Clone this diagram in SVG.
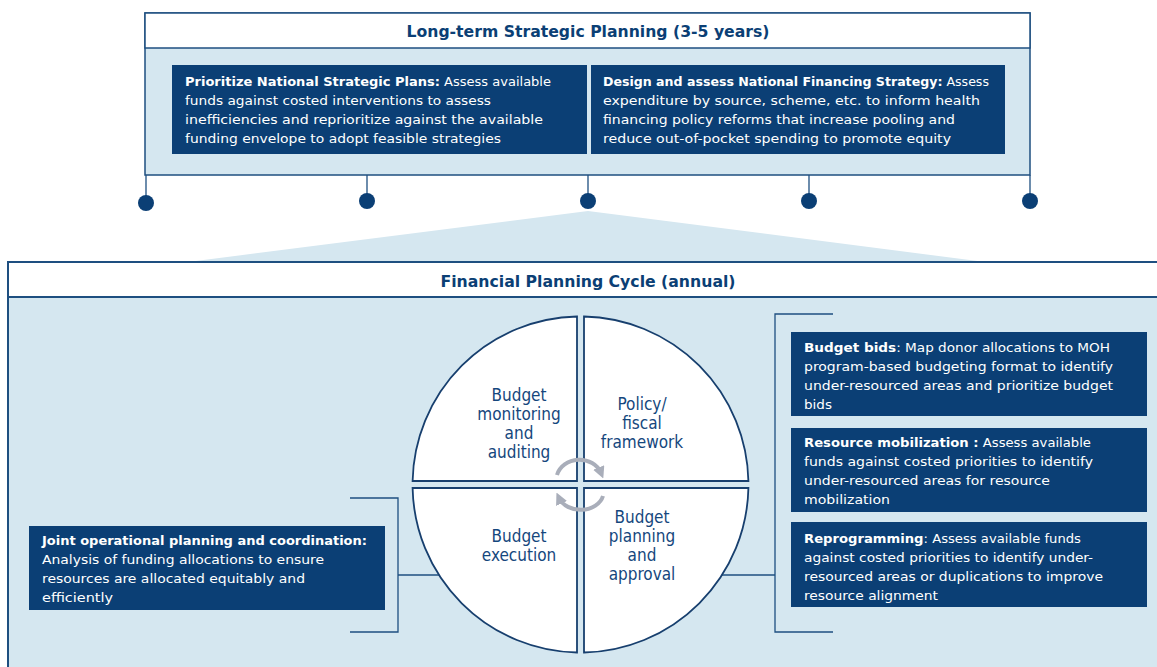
<svg xmlns="http://www.w3.org/2000/svg" width="1157" height="667" viewBox="0 0 1157 667">
<defs>
<style>
.t{font-family:"DejaVu Sans Condensed","DejaVu Sans",sans-serif;}
.box{fill:#0b3f75;}
.bt{font-size:13px;fill:#ffffff;}
.b{font-weight:bold;}
.hd{font-size:16px;font-weight:bold;fill:#0b3f75;text-anchor:middle;}
.q{font-size:17px;fill:#15477d;text-anchor:middle;}
.ln{stroke:#1e4f80;stroke-width:1.3;fill:none;}
.quad{fill:#ffffff;stroke:#173f6e;stroke-width:1.8;}
.arc{fill:none;stroke:#a9aeba;stroke-width:4;}
</style>
<marker id="ah" viewBox="0 0 10 10" refX="5" refY="5" markerWidth="3" markerHeight="3" orient="auto"><path d="M0,0 L10,5 L0,10 z" fill="#a9aeba"/></marker>
</defs>
<rect width="1157" height="667" fill="#ffffff"/>

<!-- triangle connector -->
<g id="connectors">
<polygon points="588,211 180,263 993,263" fill="#d5e7f0"/>
<g class="ln">
<line x1="146" y1="175" x2="146" y2="197"/>
<line x1="367" y1="175" x2="367" y2="197"/>
<line x1="588" y1="175" x2="588" y2="197"/>
<line x1="809" y1="175" x2="809" y2="197"/>
<line x1="1030" y1="175" x2="1030" y2="197"/>
</g>
<g fill="#0b3f75">
<circle cx="146" cy="203" r="8"/>
<circle cx="367" cy="201" r="8"/>
<circle cx="588" cy="201" r="8"/>
<circle cx="809" cy="201" r="8"/>
<circle cx="1030" cy="201" r="8"/>
</g>
</g>

<!-- top container -->
<g id="long-term">
<rect x="145" y="13" width="885" height="162" fill="#d5e7f0" stroke="#1e4f80" stroke-width="1.5"/>
<rect x="145" y="13" width="885" height="35" fill="#ffffff" stroke="#1e4f80" stroke-width="1.5"/>
<text class="t hd" x="588" y="37" textLength="363" lengthAdjust="spacingAndGlyphs">Long-term Strategic Planning (3-5 years)</text>
</g>

<g id="prioritize">
<rect class="box" x="172" y="65" width="415" height="89"/>
<text class="t bt" x="185" y="86" textLength="366" lengthAdjust="spacingAndGlyphs"><tspan class="b">Prioritize National Strategic Plans:</tspan> Assess available</text>
<text class="t bt" x="185" y="105" textLength="306" lengthAdjust="spacingAndGlyphs">funds against costed interventions to assess</text>
<text class="t bt" x="185" y="124" textLength="358" lengthAdjust="spacingAndGlyphs">inefficiencies and reprioritize against the available</text>
<text class="t bt" x="185" y="143" textLength="316" lengthAdjust="spacingAndGlyphs">funding envelope to adopt feasible strategies</text>
</g>

<g id="financing-strategy">
<rect class="box" x="591" y="65" width="414" height="89"/>
<text class="t bt" x="603" y="86" textLength="386" lengthAdjust="spacingAndGlyphs"><tspan class="b">Design and assess National Financing Strategy:</tspan> Assess</text>
<text class="t bt" x="603" y="105" textLength="377" lengthAdjust="spacingAndGlyphs">expenditure by source, scheme, etc. to inform health</text>
<text class="t bt" x="603" y="124" textLength="352" lengthAdjust="spacingAndGlyphs">financing policy reforms that increase pooling and</text>
<text class="t bt" x="603" y="143" textLength="348" lengthAdjust="spacingAndGlyphs">reduce out-of-pocket spending to promote equity</text>
</g>

<!-- lower container -->
<g id="annual">
<rect x="8" y="262" width="1155" height="410" fill="#d5e7f0" stroke="#1e4f80" stroke-width="2"/>
<rect x="8" y="262" width="1155" height="35" fill="#ffffff" stroke="#1e4f80" stroke-width="2"/>
<text class="t hd" x="588" y="287" textLength="295" lengthAdjust="spacingAndGlyphs">Financial Planning Cycle (annual)</text>
</g>

<!-- brackets -->
<g id="brackets" class="ln">
<polyline points="350,498 398,498 398,632 350,632"/>
<line x1="398" y1="575" x2="447" y2="575"/>
<polyline points="833,314 775,314 775,632 833,632"/>
<line x1="715" y1="575" x2="775" y2="575"/>
</g>

<!-- cycle quadrants -->
<g id="q-monitoring">
<path class="quad" d="M577,481 L577,316.5 A168,168 0 0 0 412.6,481 Z"/>
<text class="t q" x="519" y="401">Budget</text>
<text class="t q" x="519" y="420">monitoring</text>
<text class="t q" x="519" y="439">and</text>
<text class="t q" x="519" y="458">auditing</text>
</g>
<g id="q-policy">
<path class="quad" d="M584,481 L584,316.5 A168,168 0 0 1 748.4,481 Z"/>
<text class="t q" x="642" y="410">Policy/</text>
<text class="t q" x="642" y="429">fiscal</text>
<text class="t q" x="642" y="448">framework</text>
</g>
<g id="q-execution">
<path class="quad" d="M577,488 L577,652.5 A168,168 0 0 1 412.6,488 Z"/>
<text class="t q" x="519" y="542">Budget</text>
<text class="t q" x="519" y="561">execution</text>
</g>
<g id="q-planning">
<path class="quad" d="M584,488 L584,652.5 A168,168 0 0 0 748.4,488 Z"/>
<text class="t q" x="642" y="523">Budget</text>
<text class="t q" x="642" y="542">planning</text>
<text class="t q" x="642" y="561">and</text>
<text class="t q" x="642" y="580">approval</text>
</g>

<!-- cycle arrows -->
<g id="cycle-arrows">
<path class="arc" d="M557,475 A23,20 0 0 1 601,473" marker-end="url(#ah)"/>
<path class="arc" d="M603,496 A23,18 0 0 1 559,498" marker-end="url(#ah)"/>
</g>

<g id="joint">
<rect class="box" x="29" y="526" width="356" height="84"/>
<text class="t bt" x="42" y="545" textLength="325" lengthAdjust="spacingAndGlyphs"><tspan class="b">Joint operational planning and coordination:</tspan></text>
<text class="t bt" x="42" y="564" textLength="282" lengthAdjust="spacingAndGlyphs">Analysis of funding allocations to ensure</text>
<text class="t bt" x="42" y="583" textLength="263" lengthAdjust="spacingAndGlyphs">resources are allocated equitably and</text>
<text class="t bt" x="42" y="602" textLength="71" lengthAdjust="spacingAndGlyphs">efficiently</text>
</g>

<g id="budget-bids">
<rect class="box" x="791" y="332" width="356" height="84"/>
<text class="t bt" x="804" y="352" textLength="306" lengthAdjust="spacingAndGlyphs"><tspan class="b">Budget bids</tspan>: Map donor allocations to MOH</text>
<text class="t bt" x="804" y="371" textLength="309" lengthAdjust="spacingAndGlyphs">program-based budgeting format to identify</text>
<text class="t bt" x="804" y="390" textLength="309" lengthAdjust="spacingAndGlyphs">under-resourced areas and prioritize budget</text>
<text class="t bt" x="804" y="409" textLength="28" lengthAdjust="spacingAndGlyphs">bids</text>
</g>

<g id="resource-mobilization">
<rect class="box" x="791" y="428" width="356" height="84"/>
<text class="t bt" x="804" y="447" textLength="287" lengthAdjust="spacingAndGlyphs"><tspan class="b">Resource mobilization :</tspan> Assess available</text>
<text class="t bt" x="804" y="466" textLength="289" lengthAdjust="spacingAndGlyphs">funds against costed priorities to identify</text>
<text class="t bt" x="804" y="485" textLength="246" lengthAdjust="spacingAndGlyphs">under-resourced areas for resource</text>
<text class="t bt" x="804" y="504" textLength="86" lengthAdjust="spacingAndGlyphs">mobilization</text>
</g>

<g id="reprogramming">
<rect class="box" x="791" y="522" width="356" height="85"/>
<text class="t bt" x="804" y="543" textLength="277" lengthAdjust="spacingAndGlyphs"><tspan class="b">Reprogramming</tspan>: Assess available funds</text>
<text class="t bt" x="804" y="562" textLength="289" lengthAdjust="spacingAndGlyphs">against costed priorities to identify under-</text>
<text class="t bt" x="804" y="581" textLength="299" lengthAdjust="spacingAndGlyphs">resourced areas or duplications to improve</text>
<text class="t bt" x="804" y="600" textLength="134" lengthAdjust="spacingAndGlyphs">resource alignment</text>
</g>
</svg>
